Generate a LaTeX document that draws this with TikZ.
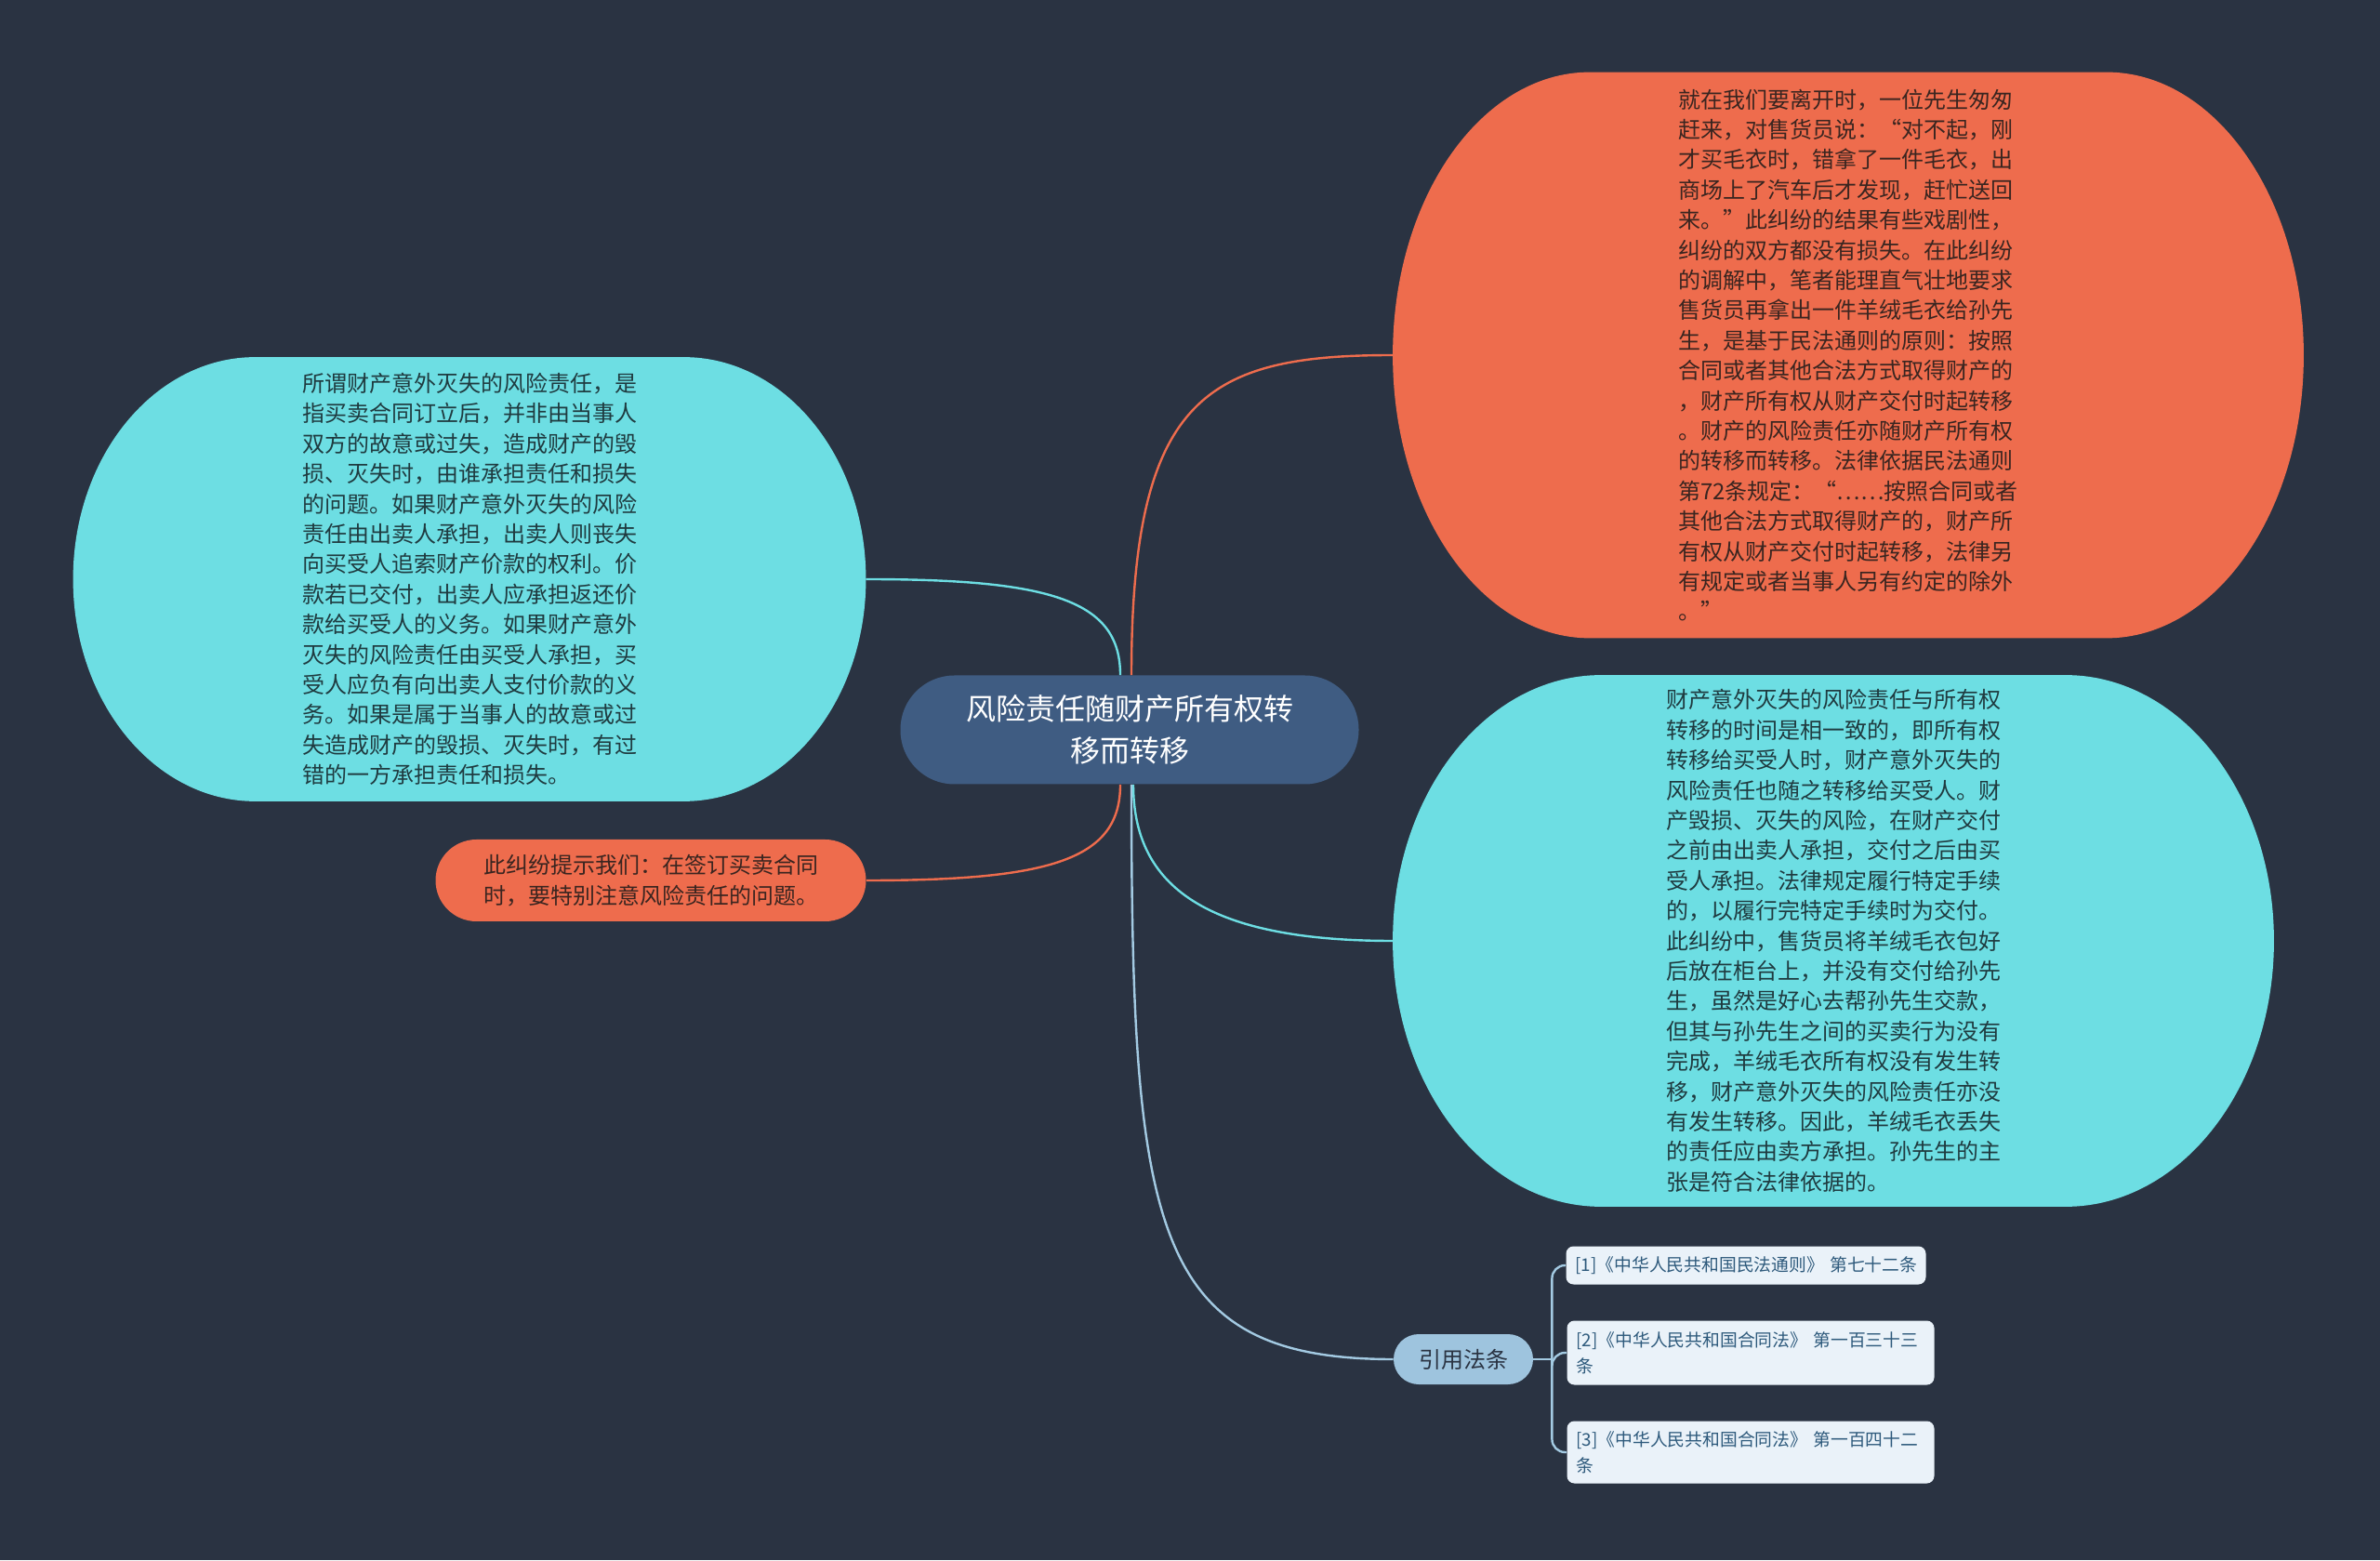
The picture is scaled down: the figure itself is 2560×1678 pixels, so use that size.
\documentclass[tikz,border=0pt]{standalone}
\usepackage{fontspec}
\usepackage{tikz}
\newfontfamily\cjk{Noto Sans CJK SC}

\definecolor{page}{HTML}{2A3342}
\definecolor{coral}{HTML}{EE6C4D}
\definecolor{aqua}{HTML}{6DDEE3}
\definecolor{navy}{HTML}{3F5C82}
\definecolor{sky}{HTML}{9EC4DE}
\definecolor{paper}{HTML}{EAF2F9}
\definecolor{ink}{HTML}{2E5A7C}
\definecolor{brown}{HTML}{3A2520}
\definecolor{teal}{HTML}{1F3B40}
\definecolor{pale}{HTML}{A3CAE2}

\pgfdeclarelayer{canvas}
\pgfdeclarelayer{behind}
\pgfsetlayers{canvas,behind,main}

\tikzset{
  body/.style={font=\cjk\fontsize{12}{16.2}\selectfont, align=left, inner sep=0pt},
  pill/.style={rounded corners=#1, inner sep=0pt},
  lawbox/.style={fill=paper, text=ink, rounded corners=4pt, inner xsep=5pt, inner ysep=0pt,
    font=\cjk\fontsize{9.4}{13.8}\selectfont, align=left},
  link/.style={line width=1.2pt}
}

% node, colour, x radius, y radius
\newcommand{\blobfill}[4]{%
  \fill[#2] ([xshift=#3]#1.north west) -- ([xshift=-#3]#1.north east)
    arc[start angle=90, end angle=0, x radius=#3, y radius=#4]
    -- ([yshift=#4]#1.south east)
    arc[start angle=0, end angle=-90, x radius=#3, y radius=#4]
    -- ([xshift=#3]#1.south west)
    arc[start angle=270, end angle=180, x radius=#3, y radius=#4]
    -- ([yshift=-#4]#1.north west)
    arc[start angle=180, end angle=90, x radius=#3, y radius=#4] -- cycle;}

\begin{document}
\begin{tikzpicture}[x=0.5pt, y=0.5pt]
  \begin{pgfonlayer}{canvas}
    \fill[page] (0,0) rectangle (2560,1678);
  \end{pgfonlayer}
  \useasboundingbox (0,0) rectangle (2560,1678);

  \node[pill=29pt, fill=navy, text=white, minimum width=246.5pt, minimum height=58.5pt,
    font=\cjk\fontsize{16}{22.5}\selectfont, align=center] (title) at (1215,893)
    {风险责任随财产所有权转\\移而转移};

  \node[body, text=brown, minimum width=489.5pt, minimum height=304pt] (risk) at (1988,1296)
    {就在我们要离开时，一位先生匆匆\\
     赶来，对售货员说：“对不起，刚\\
     才买毛衣时，错拿了一件毛衣，出\\
     商场上了汽车后才发现，赶忙送回\\
     来。”此纠纷的结果有些戏剧性，\\
     纠纷的双方都没有损失。在此纠纷\\
     的调解中，笔者能理直气壮地要求\\
     售货员再拿出一件羊绒毛衣给孙先\\
     生，是基于民法通则的原则：按照\\
     合同或者其他合法方式取得财产的\\
     ，财产所有权从财产交付时起转移\\
     。财产的风险责任亦随财产所有权\\
     的转移而转移。法律依据民法通则\\
     第72条规定：“……按照合同或者\\
     其他合法方式取得财产的，财产所\\
     有权从财产交付时起转移，法律另\\
     有规定或者当事人另有约定的除外\\
     。”};

  \node[body, text=teal, minimum width=426pt, minimum height=238.5pt] (basis) at (505,1055)
    {所谓财产意外灭失的风险责任，是\\
     指买卖合同订立后，并非由当事人\\
     双方的故意或过失，造成财产的毁\\
     损、灭失时，由谁承担责任和损失\\
     的问题。如果财产意外灭失的风险\\
     责任由出卖人承担，出卖人则丧失\\
     向买受人追索财产价款的权利。价\\
     款若已交付，出卖人应承担返还价\\
     款给买受人的义务。如果财产意外\\
     灭失的风险责任由买受人承担，买\\
     受人应负有向出卖人支付价款的义\\
     务。如果是属于当事人的故意或过\\
     失造成财产的毁损、灭失时，有过\\
     错的一方承担责任和损失。};

  \node[body, text=teal, minimum width=473.5pt, minimum height=285.5pt] (rule) at (1972,666)
    {财产意外灭失的风险责任与所有权\\
     转移的时间是相一致的，即所有权\\
     转移给买受人时，财产意外灭失的\\
     风险责任也随之转移给买受人。财\\
     产毁损、灭失的风险，在财产交付\\
     之前由出卖人承担，交付之后由买\\
     受人承担。法律规定履行特定手续\\
     的，以履行完特定手续时为交付。\\
     此纠纷中，售货员将羊绒毛衣包好\\
     后放在柜台上，并没有交付给孙先\\
     生，虽然是好心去帮孙先生交款，\\
     但其与孙先生之间的买卖行为没有\\
     完成，羊绒毛衣所有权没有发生转\\
     移，财产意外灭失的风险责任亦没\\
     有发生转移。因此，羊绒毛衣丢失\\
     的责任应由卖方承担。孙先生的主\\
     张是符合法律依据的。};

  \node[body, pill=22pt, fill=coral, text=brown, minimum width=231.5pt, minimum height=44pt]
    (hint) at (700,731)
    {此纠纷提示我们：在签订买卖合同\\时，要特别注意风险责任的问题。};

  \node[body, pill=13.5pt, fill=sky, text=page, minimum width=75pt, minimum height=27pt,
    align=center] (cite) at (1574,216) {引用法条};

  \node[lawbox, text width=183.5pt, minimum height=20.5pt] (law1) at (1878,317)
    {[1]《中华人民共和国民法通则》~第七十二条};
  \node[lawbox, text width=187.5pt, minimum height=34.5pt] (law2) at (1883,223)
    {[2]《中华人民共和国合同法》~第一百三十三\\条};
  \node[lawbox, text width=187.5pt, minimum height=33.5pt] (law3) at (1883,116)
    {[3]《中华人民共和国合同法》~第一百四十二\\条};

  \begin{pgfonlayer}{behind}
    \blobfill{risk}{coral}{106pt}{152pt}
    \blobfill{basis}{aqua}{98pt}{119.25pt}
    \blobfill{rule}{aqua}{112pt}{142.75pt}
  \end{pgfonlayer}

  \draw[link, coral] ([xshift=1pt]title.north) .. controls +(0,300) and +(-200,0) .. (risk.west);
  \draw[link, aqua] ([xshift=-5pt]title.north) .. controls +(0,80) and +(200,0) .. (basis.east);
  \draw[link, coral] ([xshift=-5pt]title.south) .. controls +(0,-80) and +(200,0) .. (hint.east);
  \draw[link, aqua] ([xshift=2pt]title.south) .. controls +(0,-110) and +(-200,0) .. (rule.west);
  \draw[link, pale] ([xshift=1pt]title.south) .. controls +(0,-480) and +(-260,0) .. (cite.west);

  \draw[link, pale] (cite.east) -- ++(20,0) coordinate (fork);
  \foreach \n in {law1,law2,law3}
    \draw[link, pale, rounded corners=7pt] (fork) |- (\n.west);
\end{tikzpicture}
\end{document}
